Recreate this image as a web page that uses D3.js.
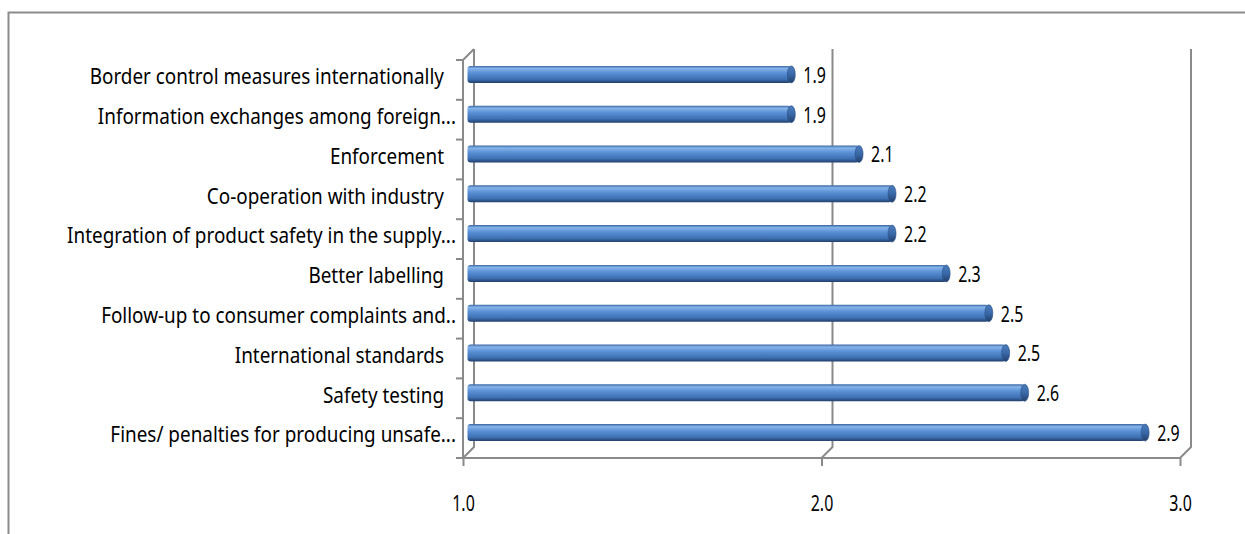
<!DOCTYPE html>
<html>
<head>
<meta charset="utf-8">
<script src="https://cdn.jsdelivr.net/npm/d3@7"></script>
<style>
  body { margin: 0; background: #fff; }
  text { font-family: "Noto Sans", "Open Sans", sans-serif; fill: #000; }
</style>
</head>
<body>
<div id="chart"></div>
<script>
var width = 1245;
var height = 534;

var categories = [
  "Border control measures internationally",
  "Information exchanges among foreign...",
  "Enforcement",
  "Co-operation with industry",
  "Integration of product safety in the supply...",
  "Better labelling",
  "Follow-up to consumer complaints and..",
  "International standards",
  "Safety testing",
  "Fines/ penalties for producing unsafe..."
];
var values = [1.906, 1.906, 2.095, 2.187, 2.187, 2.338, 2.457, 2.504, 2.557, 2.893];
var xTicks = [1, 2, 3];

var depthX = 11;
var depthY = -11;
var barHeight = 17;
var gridColor = "#8a8a8a";
// the source font is a narrow one, so squeeze the available sans a bit
var squeeze = 0.9;
var numSqueeze = 0.76;

var svg = d3.select("#chart")
  .append("svg")
  .attr("width", width)
  .attr("height", height);

/* outer chart border */
svg.append("path")
  .attr("d", "M8.5,534 L8.5,12.5 L1245,12.5")
  .attr("fill", "none")
  .attr("stroke", "#8c8c8c")
  .attr("stroke-width", 2);

/* Scale */
var xScale = d3.scaleLinear().domain([1, 3]).range([463, 1180]);
var yScale = d3.scaleBand().domain(categories).range([60, 458]);
var fmt = d3.format(".1f");

/* gradient for the cylinders */
var defs = svg.append("defs");
var grad = defs.append("linearGradient")
  .attr("id", "barGrad")
  .attr("x1", 0).attr("y1", 0).attr("x2", 0).attr("y2", 1);
grad.append("stop").attr("offset", "0%").attr("stop-color", "#3a67a3");
grad.append("stop").attr("offset", "15%").attr("stop-color", "#86b4ea");
grad.append("stop").attr("offset", "40%").attr("stop-color", "#5b91d6");
grad.append("stop").attr("offset", "78%").attr("stop-color", "#3d70b3");
grad.append("stop").attr("offset", "100%").attr("stop-color", "#223f6b");

var capGrad = defs.append("linearGradient")
  .attr("id", "capGrad")
  .attr("x1", 0).attr("y1", 0).attr("x2", 0).attr("y2", 1);
capGrad.append("stop").attr("offset", "0%").attr("stop-color", "#4a7cbc");
capGrad.append("stop").attr("offset", "50%").attr("stop-color", "#3a69a8");
capGrad.append("stop").attr("offset", "100%").attr("stop-color", "#213f6b");

/* back wall gridlines + floor slants */
var grid = svg.append("g")
  .attr("stroke", gridColor)
  .attr("stroke-width", 2)
  .attr("fill", "none");

grid.selectAll(".vgrid")
  .data(xTicks)
  .enter()
  .append("path")
  .attr("class", "vgrid")
  .attr("d", d => "M" + xScale(d) + "," + yScale.range()[1] +
    " L" + (xScale(d) + depthX) + "," + (yScale.range()[1] + depthY) +
    " L" + (xScale(d) + depthX) + "," + (yScale.range()[0] + depthY));

/* top-left slant of the side wall */
grid.append("path")
  .attr("d", "M" + xScale(1) + "," + yScale.range()[0] +
    " L" + (xScale(1) + depthX) + "," + (yScale.range()[0] + depthY));

/* front axes */
var xAxis = d3.axisBottom(xScale)
  .tickValues(xTicks)
  .tickFormat(fmt)
  .tickSize(8)
  .tickPadding(30);

var xAxisG = svg.append("g")
  .attr("transform", "translate(0," + yScale.range()[1] + ")")
  .call(xAxis)
  .attr("font-size", null)
  .attr("font-family", null);
xAxisG.select(".domain").remove();
xAxisG.append("line")
  .attr("x1", xScale(1) - 7).attr("x2", xScale(3))
  .attr("stroke", gridColor).attr("stroke-width", 2);
xAxisG.selectAll(".tick line").attr("stroke", gridColor).attr("stroke-width", 2);
xAxisG.selectAll(".tick text")
  .style("font-size", "21px")
  .attr("fill", "#000")
  .attr("transform", "scale(" + numSqueeze + ",1)");

/* vertical front axis with tick marks at category boundaries */
var yAxisG = svg.append("g");
yAxisG.append("line")
  .attr("x1", xScale(1)).attr("x2", xScale(1))
  .attr("y1", yScale.range()[0]).attr("y2", yScale.range()[1])
  .attr("stroke", gridColor).attr("stroke-width", 2);
yAxisG.selectAll(".ytick")
  .data(categories.concat(["end"]))
  .enter()
  .append("line")
  .attr("class", "ytick")
  .attr("x1", xScale(1) - 7).attr("x2", xScale(1))
  .attr("y1", (d, i) => yScale.range()[0] + i * yScale.bandwidth())
  .attr("y2", (d, i) => yScale.range()[0] + i * yScale.bandwidth())
  .attr("stroke", gridColor).attr("stroke-width", 2);

/* category labels */
svg.append("g")
  .selectAll(".cat")
  .data(categories)
  .enter()
  .append("text")
  .attr("class", "cat")
  .attr("transform", d => "translate(" + (d.endsWith(".") ? 456 : 444) + "," +
    (yScale(d) + yScale.bandwidth() / 2 - 3) + ") scale(" + squeeze + ",1)")
  .attr("dy", "0.35em")
  .attr("text-anchor", "end")
  .style("font-size", "21px")
  .text(d => d);

/* bars (cylinders drawn at half depth) */
var bars = svg.append("g")
  .selectAll(".bar")
  .data(values)
  .enter()
  .append("g")
  .attr("class", "bar")
  .attr("transform", (d, i) => "translate(" + (depthX / 2) + "," +
    (yScale(categories[i]) + yScale.bandwidth() / 2 + depthY / 2 - barHeight / 2) + ")");

bars.append("rect")
  .attr("x", xScale(1) - 1)
  .attr("y", 0)
  .attr("width", d => xScale(d) - xScale(1) - 1)
  .attr("height", barHeight)
  .attr("rx", 3)
  .attr("fill", "url(#barGrad)");

bars.append("ellipse")
  .attr("cx", d => xScale(d) - 2)
  .attr("cy", barHeight / 2)
  .attr("rx", 4)
  .attr("ry", barHeight / 2)
  .attr("fill", "url(#capGrad)")
  .attr("stroke", "#2a4f84")
  .attr("stroke-width", 0.6);

/* value labels */
bars.append("text")
  .attr("transform", d => "translate(" + (xScale(d) + 10) + "," + (barHeight / 2 + 1) + ") scale(" + numSqueeze + ",1)")
  .attr("dy", "0.35em")
  .style("font-size", "21px")
  .text(d => fmt(d));
</script>
</body>
</html>
